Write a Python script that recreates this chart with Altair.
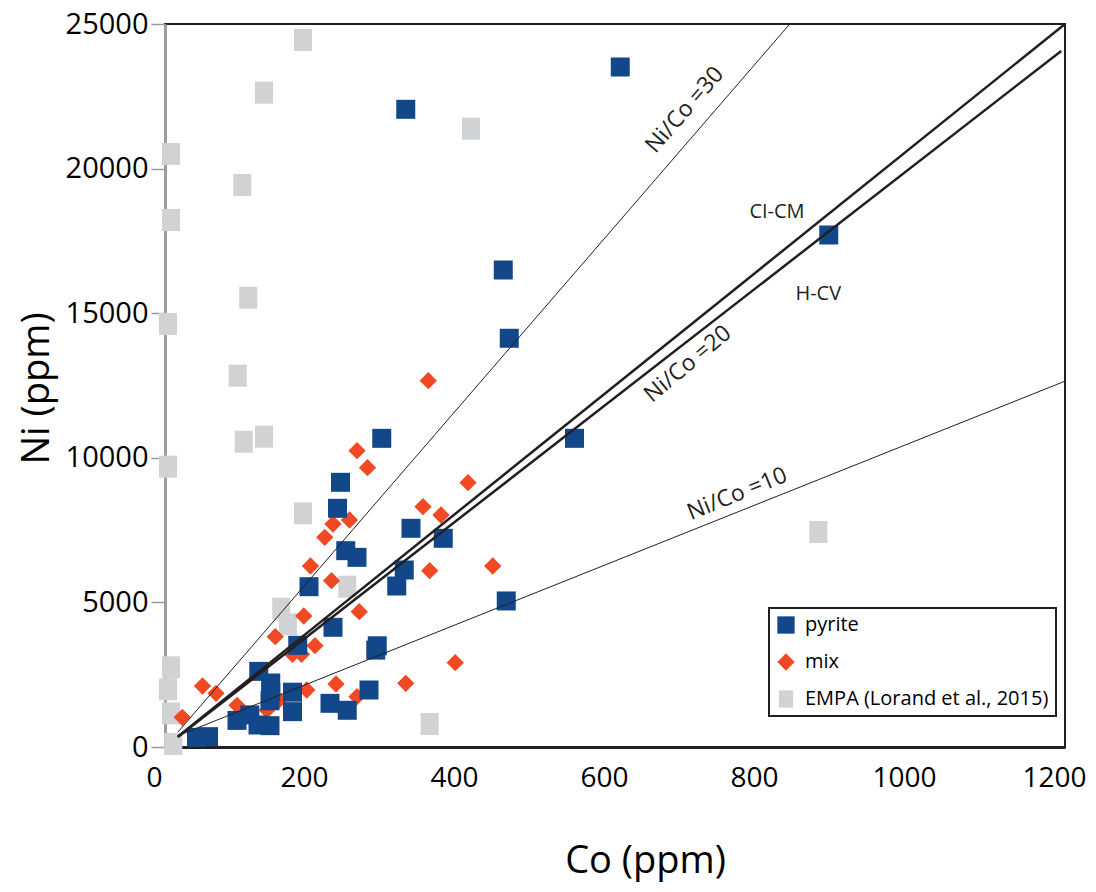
import altair as alt
import pandas as pd

# Co / Ni (ppm)
pyrite_co = [607, 321, 885, 451, 459, 289, 546, 234, 230, 328, 371, 241, 256, 319, 309,
             192, 455, 224, 177, 283, 281, 125, 141, 170, 272, 220, 243, 140, 141, 170,
             96, 113, 124, 140, 42, 58]
pyrite_ni = [23513, 22050, 17704, 16494, 14133, 10673, 10673, 9152, 8253, 7562, 7216, 6789, 6558, 6120, 5567,
             5543, 5050, 4139, 3515, 3500, 3350, 2615, 2213, 1895, 1971, 1510, 1270, 1600, 1900, 1222,
             920, 1110, 761, 738, 334, 357]

mix_co = [351, 256, 270, 404, 344, 368, 224, 246, 213, 194, 353, 437, 222, 259, 185,
          147, 200, 170, 182, 387, 228, 321, 50, 68, 189, 256, 96, 136, 152, 23]
mix_ni = [12666, 10246, 9658, 9139, 8310, 8022, 7711, 7849, 7250, 6258, 6097, 6258, 5751, 4679, 4530,
          3815, 3504, 3205, 3205, 2916, 2178, 2202, 2109, 1857, 1971, 1740, 1441, 1279, 1625, 1027]

empa_co = [184, 132, 408, 8, 103, 8, 111, 4, 97, 105, 132, 4, 184, 243, 155,
           164, 8, 4, 8, 11, 353, 871]
empa_ni = [24447, 22625, 21380, 20505, 19433, 18223, 15536, 14626, 12840, 10557, 10730, 9693, 8080, 5543, 4782,
           4242, 2755, 1994, 1164, 104, 795, 7434]

groups = ["pyrite", "mix", "EMPA (Lorand et al., 2015)"]
group_colors = ["#12488A", "#F04923", "#D1D2D4"]
group_shapes = ["square", "diamond", "M-0.82,-1L0.82,-1L0.82,1L-0.82,1Z"]

# reference lines (end points in data units)
ratio_names = ["Ni/Co =30", "CI-CM", "H-CV", "Ni/Co =10"]
ratio_co0 = [17, 17, 17, 20]
ratio_ni0 = [510, 354, 342, 420]
ratio_co1 = [833, 1200, 1195, 1200]
ratio_ni1 = [25000, 25000, 24070, 12650]
ratio_width = [1, 2.5, 2.5, 1]

# line annotations
ratio_label_text = ["Ni/Co =30", "Ni/Co =20", "Ni/Co =10"]
ratio_label_co = [693, 697, 763]
ratio_label_ni = [22026, 13243, 8748]
ratio_label_angle = [311, 320, 338]

group_label_text = ["CI-CM", "H-CV"]
group_label_co = [816, 871]
group_label_ni = [18499, 15664]

FONT = "Open Sans"
INK = "#231f20"

points_df = pd.concat([
    pd.DataFrame({"Co": empa_co, "Ni": empa_ni, "type": groups[2]}),
    pd.DataFrame({"Co": mix_co, "Ni": mix_ni, "type": groups[1]}),
    pd.DataFrame({"Co": pyrite_co, "Ni": pyrite_ni, "type": groups[0]}),
], ignore_index=True)

lines_df = pd.DataFrame({
    "name": ratio_names, "co0": ratio_co0, "ni0": ratio_ni0,
    "co1": ratio_co1, "ni1": ratio_ni1, "w": ratio_width,
})

ratio_labels_df = pd.DataFrame({
    "text": ratio_label_text, "Co": ratio_label_co, "Ni": ratio_label_ni,
    "angle": ratio_label_angle,
})
group_labels_df = pd.DataFrame({
    "text": group_label_text, "Co": group_label_co, "Ni": group_label_ni,
})

x_scale = alt.Scale(domain=[0, 1200], nice=False)
y_scale = alt.Scale(domain=[0, 25000], nice=False)

x_axis = alt.Axis(
    values=[0, 200, 400, 600, 800, 1000, 1200], ticks=False, grid=False,
    format="d", labelFlush=False, tickOffset=-11,
    labelFont=FONT, labelFontSize=28, labelPadding=17, labelColor="black",
    domainColor=INK, domainWidth=3,
    title="Co (ppm)", titleFont=FONT, titleFontSize=38, titleFontWeight="normal",
    titleColor="black", titleX=480, titleY=114, titleBaseline="middle",
)
y_axis = alt.Axis(
    values=[0, 5000, 10000, 15000, 20000, 25000], grid=False,
    format="d", labelFlush=False,
    tickSize=14, tickColor="#999999", tickWidth=1.5,
    labelFont=FONT, labelFontSize=29, labelPadding=3, labelColor="black",
    domainColor="#9d9d9d", domainWidth=3,
    title="Ni (ppm)", titleFont=FONT, titleFontSize=38, titleFontWeight="normal",
    titleColor="black", titleAngle=270, titleX=-128, titleY=364,
    titleAlign="center", titleBaseline="middle",
)

base = alt.Chart(points_df).encode(
    x=alt.X("Co:Q", scale=x_scale, axis=x_axis),
    y=alt.Y("Ni:Q", scale=y_scale, axis=y_axis),
    color=alt.Color(
        "type:N",
        scale=alt.Scale(domain=groups, range=group_colors),
        legend=alt.Legend(
            title=None, orient="none", legendX=604, legendY=584,
            strokeColor=INK, fillColor="white", padding=7,
            rowPadding=17, labelFont=FONT, labelFontSize=20, labelColor="black",
            symbolSize=300, labelOffset=9, labelLimit=400,
        ),
    ),
    shape=alt.Shape("type:N", scale=alt.Scale(domain=groups, range=group_shapes)),
)

empa_pts = base.transform_filter(alt.datum.type == groups[2]).mark_point(
    filled=True, opacity=1, strokeWidth=0, size=484
)
mix_pts = base.transform_filter(alt.datum.type == groups[1]).mark_point(
    filled=True, opacity=1, strokeWidth=0, size=300
)
pyrite_pts = base.transform_filter(alt.datum.type == groups[0]).mark_point(
    filled=True, opacity=1, strokeWidth=0, size=361
)

rules = (
    alt.Chart(lines_df)
    .mark_rule(color=INK)
    .encode(
        x="co0:Q", y="ni0:Q", x2="co1:Q", y2="ni1:Q",
        size=alt.Size("w:Q", scale=None),
    )
)

ratio_labels = (
    alt.Chart(ratio_labels_df)
    .mark_text(font=FONT, fontSize=23, color=INK, align="center", baseline="middle")
    .encode(
        x="Co:Q", y="Ni:Q", text="text:N",
        angle=alt.Angle("angle:Q", scale=None),
    )
)

group_labels = (
    alt.Chart(group_labels_df)
    .mark_text(font=FONT, fontSize=20, color=INK, align="center", baseline="middle")
    .encode(x="Co:Q", y="Ni:Q", text="text:N")
)

chart = (
    alt.layer(empa_pts, mix_pts, pyrite_pts, rules, ratio_labels, group_labels)
    .properties(
        width=900, height=723,
        autosize=alt.AutoSizeParams(type="none"),
        padding={"left": 157, "top": 16, "right": 23, "bottom": 140},
    )
    .configure_view(stroke=INK, strokeWidth=2)
    .configure_legend(strokeWidth=2)
)

chart.save("out.html", embed_options={"renderer": "svg", "actions": False})
